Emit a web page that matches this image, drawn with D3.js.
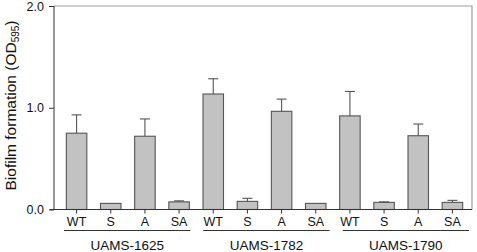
<!DOCTYPE html>
<html>
<head>
  <meta charset="utf-8">
  <script src="https://d3js.org/d3.v7.min.js"></script>
  <style>
    body { margin: 0; background: #fff; }
    text { font-family: "Liberation Sans", Arial, sans-serif; fill: #111; }
  </style>
</head>
<body>
<div id="chart"></div>
<script>
  let width = 477;
  let height = 252;

  // data
  let groups = ["UAMS-1625", "UAMS-1782", "UAMS-1790"];
  let strains = ["WT", "S", "A", "SA"];
  let means = [
    [0.75, 0.06, 0.72, 0.075],
    [1.135, 0.08, 0.965, 0.06],
    [0.92, 0.07, 0.725, 0.07]
  ];
  let errors = [
    [0.18, 0.0, 0.17, 0.01],
    [0.15, 0.03, 0.12, 0.0],
    [0.24, 0.005, 0.115, 0.02]
  ];
  let yTicks = [0, 1, 2];

  let rows = [];
  groups.forEach((g, gi) => strains.forEach((s, si) => rows.push({
    key: g + "|" + s, group: g, strain: s, value: means[gi][si], err: errors[gi][si]
  })));

  let plot = {left: 54, right: 472, top: 6, bottom: 209.5};

  let x = d3.scaleBand().domain(rows.map(d => d.key))
    .range([59.5, 469.5]).paddingInner(0.4).paddingOuter(0.2);
  let xGroup = d3.scaleBand().domain(groups).range([plot.left, plot.right]);
  let y = d3.scaleLinear().domain([0, 2]).range([plot.bottom, plot.top]);

  let svg = d3.select("#chart").append("svg")
    .attr("width", width)
    .attr("height", height);

  // frame top / right
  svg.append("path")
    .attr("d", `M${plot.left},${plot.top}H${plot.right}V${plot.bottom}`)
    .attr("fill", "none")
    .attr("stroke", "#a0a0a0")
    .attr("stroke-width", 1.2);

  // bars
  svg.append("g").selectAll("rect")
    .data(rows)
    .enter().append("rect")
    .attr("x", d => x(d.key))
    .attr("y", d => y(d.value))
    .attr("width", x.bandwidth())
    .attr("height", d => y(0) - y(d.value))
    .attr("fill", "#c2c2c2")
    .attr("stroke", "#555")
    .attr("stroke-width", 1.1);

  // error bars (upper only)
  let eb = svg.append("g").attr("stroke", "#555").attr("stroke-width", 1.1);
  eb.selectAll("line.v")
    .data(rows.filter(d => d.err > 0))
    .enter().append("line")
    .attr("class", "v")
    .attr("x1", d => x(d.key) + x.bandwidth() / 2)
    .attr("x2", d => x(d.key) + x.bandwidth() / 2)
    .attr("y1", d => y(d.value))
    .attr("y2", d => y(d.value + d.err));
  eb.selectAll("line.c")
    .data(rows.filter(d => d.err > 0))
    .enter().append("line")
    .attr("class", "c")
    .attr("x1", d => x(d.key) + x.bandwidth() / 2 - 5)
    .attr("x2", d => x(d.key) + x.bandwidth() / 2 + 5)
    .attr("y1", d => y(d.value + d.err))
    .attr("y2", d => y(d.value + d.err));

  // y axis
  let yAxis = svg.append("g")
    .attr("transform", `translate(${plot.left},0)`)
    .call(d3.axisLeft(y).tickValues(yTicks).tickFormat(d3.format(".1f")).tickSize(5).tickPadding(5));
  yAxis.select(".domain").attr("stroke", "#333").attr("d", `M0,${plot.top}V${plot.bottom}`);
  yAxis.selectAll(".tick line").attr("stroke", "#333");
  yAxis.selectAll("text").attr("font-size", 12.5).attr("fill", "#111")
    .attr("font-family", "Liberation Sans, Arial, sans-serif");

  // x axis
  let xAxis = svg.append("g")
    .attr("transform", `translate(0,${plot.bottom})`)
    .call(d3.axisBottom(x).tickFormat(k => k.split("|")[1]).tickSize(4).tickPadding(4));
  xAxis.select(".domain").attr("stroke", "#333").attr("d", `M${plot.left - 4},0H${plot.right}`);
  xAxis.selectAll(".tick line").attr("stroke", "#333");
  xAxis.selectAll("text").attr("font-size", 12.5).attr("fill", "#111")
    .attr("font-family", "Liberation Sans, Arial, sans-serif");

  // group underlines and labels
  let gl = svg.append("g").selectAll("g")
    .data(groups)
    .enter().append("g");
  gl.append("line")
    .attr("x1", d => xGroup(d) + 10)
    .attr("x2", d => xGroup(d) + xGroup.bandwidth() - 3)
    .attr("y1", 230.5)
    .attr("y2", 230.5)
    .attr("stroke", "#333")
    .attr("stroke-width", 1);
  gl.append("text")
    .attr("x", d => xGroup(d) + 3.5 + xGroup.bandwidth() / 2)
    .attr("y", 250)
    .attr("text-anchor", "middle")
    .attr("font-size", 13.5)
    .text(d => d);

  // y label
  let yl = svg.append("text")
    .attr("transform", "translate(15.5,105.5) rotate(-90)")
    .attr("text-anchor", "middle")
    .attr("font-size", 15.5);
  yl.append("tspan").text("Biofilm formation (OD");
  yl.append("tspan").attr("font-size", 10).attr("dy", 3).text("595");
  yl.append("tspan").attr("dy", -3).text(")");
</script>
</body>
</html>
